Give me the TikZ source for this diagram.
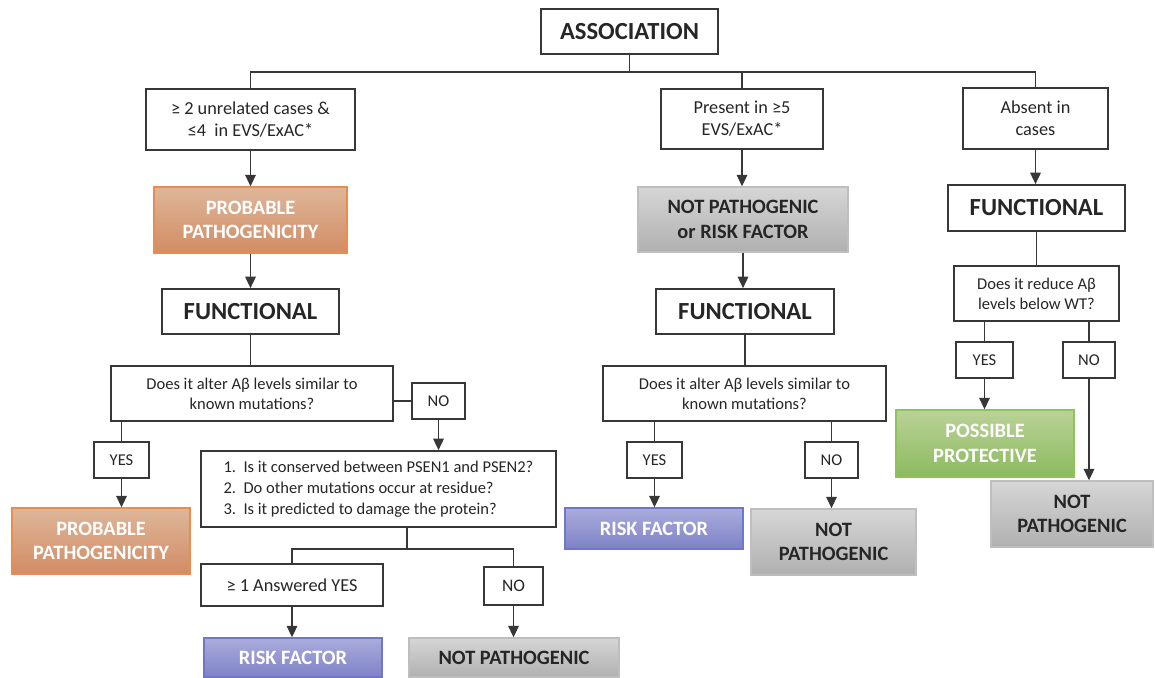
\documentclass[tikz,border=0pt]{standalone}
\usepackage{fontspec}
\setmainfont{Carlito}
\usetikzlibrary{arrows.meta}

\definecolor{boxline}{RGB}{55,55,55}
\definecolor{textdark}{RGB}{38,38,38}
\definecolor{orangetop}{RGB}{222,182,154}
\definecolor{orangebot}{RGB}{210,140,100}
\definecolor{orangeline}{RGB}{232,140,80}
\definecolor{graytop}{RGB}{214,214,214}
\definecolor{graybot}{RGB}{176,176,176}
\definecolor{grayline}{RGB}{190,190,190}
\definecolor{bluetop}{RGB}{170,172,220}
\definecolor{bluebot}{RGB}{126,130,198}
\definecolor{blueline}{RGB}{112,118,200}
\definecolor{greentop}{RGB}{186,210,152}
\definecolor{greenbot}{RGB}{140,186,94}
\definecolor{greenline}{RGB}{140,196,90}

\begin{document}
\begin{tikzpicture}[x=0.02cm,y=-0.02cm]
    % Define styles
    \tikzstyle{plainbox}=[draw=boxline,line width=1pt,fill=white,text=textdark,align=center,inner sep=0pt]
    \tikzstyle{headbox}=[plainbox,font=\fontsize{14}{17}\selectfont\bfseries]
    \tikzstyle{critbox}=[plainbox,font=\fontsize{10.4}{12.6}\selectfont]
    \tikzstyle{askbox}=[plainbox,font=\fontsize{9.4}{11.4}\selectfont]
    \tikzstyle{result}=[align=center,inner sep=0pt,line width=0.8pt,font=\fontsize{11.6}{14}\selectfont\bfseries]
    \tikzstyle{pathbox}=[result,draw=orangeline,top color=orangetop,bottom color=orangebot,text=white]
    \tikzstyle{notbox}=[result,draw=grayline,top color=graytop,bottom color=graybot,text=textdark]
    \tikzstyle{riskbox}=[result,draw=blueline,top color=bluetop,bottom color=bluebot,text=white]
    \tikzstyle{protbox}=[result,draw=greenline,top color=greentop,bottom color=greenbot,text=white]
    \tikzstyle{link}=[line width=0.8pt,draw=boxline]
    \tikzstyle{outedge}=[link,-{Triangle[length=6.5pt,width=6pt]}]

    \useasboundingbox (0,0) rectangle (1155,677);

    % Top row
    \node[headbox,minimum width=3.54cm,minimum height=0.90cm] (1) at (629.5,31.5) {ASSOCIATION};
    \node[critbox,minimum width=4.18cm,minimum height=1.22cm] (2) at (250.5,119.5) {≥ 2 unrelated cases \&\\≤4~ in EVS/ExAC*};
    \node[critbox,minimum width=3.24cm,minimum height=1.20cm] (3) at (742,119) {Present in ≥5\\EVS/ExAC*};
    \node[critbox,minimum width=2.90cm,minimum height=1.22cm] (4) at (1035.5,118.5) {Absent in\\cases};
    \coordinate (bus) at (629.5,72);

    % Left branch
    \node[pathbox,minimum width=3.86cm,minimum height=1.32cm] (5) at (250.5,220) {PROBABLE\\PATHOGENICITY};
    \node[headbox,minimum width=3.54cm,minimum height=0.90cm] (8) at (250.5,311.5) {FUNCTIONAL};
    \node[askbox,minimum width=5.64cm,minimum height=1.10cm] (11) at (252,393.5) {Does it alter Aβ levels similar to\\known mutations?};
    \node[askbox,minimum width=1.06cm,minimum height=0.72cm] (13) at (438.5,401) {NO};
    \node[askbox,minimum width=1.10cm,minimum height=0.72cm] (14) at (121.5,460) {YES};
    \node[askbox,minimum width=7.10cm,minimum height=1.52cm,align=left,font=\fontsize{9.4}{12}\selectfont] (19) at (378.5,489)
        {1.\hspace{0.45em}Is it conserved between PSEN1 and PSEN2?\\2.\hspace{0.45em}Do other mutations occur at residue?\\3.\hspace{0.45em}Is it predicted to damage the protein?};
    \node[pathbox,minimum width=3.56cm,minimum height=1.32cm] (20) at (101,541) {PROBABLE\\PATHOGENICITY};
    \node[critbox,minimum width=3.64cm,minimum height=0.84cm] (25) at (292,585) {≥ 1 Answered YES};
    \node[askbox,minimum width=1.18cm,minimum height=0.76cm,font=\fontsize{10}{12}\selectfont] (26) at (513.5,586) {NO};
    \node[riskbox,minimum width=3.56cm,minimum height=0.78cm] (27) at (293,657.5) {RISK FACTOR};
    \node[notbox,minimum width=4.20cm,minimum height=0.78cm] (28) at (514,657.5) {NOT PATHOGENIC};
    \coordinate (fork) at (407,549);

    % Middle branch
    \node[notbox,minimum width=4.20cm,minimum height=1.30cm] (6) at (743,219.5) {NOT PATHOGENIC\\or RISK FACTOR};
    \node[headbox,minimum width=3.56cm,minimum height=0.90cm] (9) at (745,311.5) {FUNCTIONAL};
    \node[askbox,minimum width=5.66cm,minimum height=1.10cm] (12) at (744.5,393.5) {Does it alter Aβ levels similar to\\known mutations?};
    \node[askbox,minimum width=1.10cm,minimum height=0.72cm] (15) at (654.5,460) {YES};
    \node[askbox,minimum width=1.06cm,minimum height=0.72cm] (16) at (831.5,460) {NO};
    \node[riskbox,minimum width=3.56cm,minimum height=0.82cm] (21) at (654,528.5) {RISK FACTOR};
    \node[notbox,minimum width=3.30cm,minimum height=1.32cm] (22) at (833.5,542) {NOT\\PATHOGENIC};

    % Right branch
    \node[headbox,minimum width=3.54cm,minimum height=0.92cm] (7) at (1036.5,208) {FUNCTIONAL};
    \node[askbox,minimum width=3.30cm,minimum height=1.10cm] (10) at (1036.5,293.5) {Does it reduce Aβ\\levels below WT?};
    \node[askbox,minimum width=1.14cm,minimum height=0.72cm] (17) at (984.5,360) {YES};
    \node[askbox,minimum width=1.04cm,minimum height=0.72cm] (18) at (1089,360) {NO};
    \node[protbox,minimum width=3.56cm,minimum height=1.34cm] (23) at (985,443.5) {POSSIBLE\\PROTECTIVE};
    \node[notbox,minimum width=3.24cm,minimum height=1.32cm] (24) at (1072,514) {NOT\\PATHOGENIC};

    % Draw the edges
    \draw[link] (1.south) -- (bus);
    \draw[link] (2.north) |- (bus) -| (4.north);
    \draw[link] (bus -| 3.north) -- (3.north);

    \draw[outedge] (2.south) -- (2.south |- 5.north);
    \draw[outedge] (5.south) -- (5.south |- 8.north);
    \draw[link] (8.south) -- (8.south |- 11.north);
    \draw[link] (11.east |- 13.west) -- (13.west);
    \draw[outedge] (13.south) -- (13.south |- 19.north);
    \draw[link] (11.south -| 14.north) -- (14.north);
    \draw[outedge] (14.south) -- (14.south |- 20.north);
    \draw[link] (19.south -| fork) -- (fork);
    \draw[link] (25.north) |- (fork) -| (26.north);
    \draw[outedge] (25.south) -- (25.south |- 27.north);
    \draw[outedge] (26.south) -- (26.south |- 28.north);

    \draw[outedge] (3.south) -- (3.south |- 6.north);
    \draw[outedge] (6.south) -- (6.south |- 9.north);
    \draw[link] (9.south) -- (9.south |- 12.north);
    \draw[link] (12.south -| 15.north) -- (15.north);
    \draw[link] (12.south -| 16.north) -- (16.north);
    \draw[outedge] (15.south) -- (15.south |- 21.north);
    \draw[outedge] (16.south) -- (16.south |- 22.north);

    \draw[outedge] (4.south) -- (4.south |- 7.north);
    \draw[link] (7.south) -- (7.south |- 10.north);
    \draw[link] (10.south -| 17.north) -- (17.north);
    \draw[link] (10.south -| 18.north) -- (18.north);
    \draw[outedge] (17.south) -- (17.south |- 23.north);
    \draw[outedge] (18.south) -- (18.south |- 24.north);
\end{tikzpicture}
\end{document}
